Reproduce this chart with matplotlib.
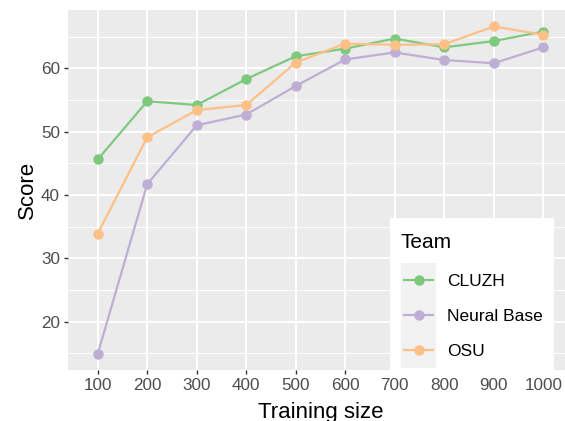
import matplotlib
matplotlib.use("Agg")
import matplotlib.pyplot as plt
from matplotlib.lines import Line2D
from matplotlib.patches import Rectangle

sizes = ["100", "200", "300", "400", "500", "600", "700", "800", "900", "1000"]
cluzh = [45.6, 54.8, 54.2, 58.3, 61.9, 63.1, 64.7, 63.3, 64.3, 65.8]
neural = [14.9, 41.7, 51.0, 52.7, 57.2, 61.4, 62.5, 61.3, 60.8, 63.3]
osu = [33.9, 49.1, 53.4, 54.2, 60.9, 63.9, 63.7, 63.8, 66.6, 65.3]
teams = ["CLUZH", "Neural Base", "OSU"]
colors = ["#7FC97F", "#BEAED4", "#FDC086"]

plt.rcParams['font.family'] = ['Liberation Sans', 'DejaVu Sans']

W, H = 565, 421
fig = plt.figure(figsize=(W / 100, H / 100), dpi=100)
ax = fig.add_axes([68 / W, (H - 370) / H, 505 / W, 360 / H])
ax.set_facecolor("#EBEBEB")
xs = list(range(1, len(sizes) + 1))

LW, MS = 1.6, 6.5
for vals, c in zip([cluzh, neural, osu], colors):
    ax.plot(xs, vals, color=c, lw=LW, marker='o', ms=MS, zorder=3, clip_on=False)

ax.set_xlim(0.4, 10.6)
ax.set_ylim(12.37, 69.2)
ax.set_xticks(xs)
ax.set_xticklabels(sizes)
ax.set_yticks([20, 30, 40, 50, 60])
ax.set_yticks([15, 25, 35, 45, 55, 65], minor=True)
ax.grid(which='major', color='white', lw=1.4)
ax.grid(which='minor', axis='y', color='white', lw=0.7)
ax.set_axisbelow(True)
for s in ax.spines.values():
    s.set_visible(False)
ax.tick_params(which='major', length=3.2, color='#333333', width=1.0,
               labelsize=12.3, labelcolor='#4D4D4D', pad=2.5)
ax.tick_params(which='minor', length=0)
ax.set_xlabel("Training size", fontsize=16, labelpad=6.5)
ax.set_ylabel("Score", fontsize=16, labelpad=2)

# Legend drawn in figure pixel coordinates (top-origin)
def fx(x):
    return x / W

def fy(y):
    return 1 - y / H

fig.add_artist(Rectangle((fx(390), fy(375)), (554 - 390) / W, (375 - 218) / H,
                         transform=fig.transFigure, facecolor='white',
                         edgecolor='none', zorder=5))
fig.text(fx(400.5), fy(248), "Team", fontsize=15, color='black',
         ha='left', va='baseline', zorder=6)
fig.add_artist(Rectangle((fx(401), fy(367.5)), 35 / W, 105 / H,
                         transform=fig.transFigure, facecolor='#F2F2F2',
                         edgecolor='none', zorder=6))
for i, (t, c) in enumerate(zip(teams, colors)):
    yc = 280 + 35 * i
    fig.add_artist(Line2D([fx(404), fx(433)], [fy(yc), fy(yc)],
                          transform=fig.transFigure, color=c, lw=LW, zorder=7))
    fig.add_artist(Line2D([fx(418.5)], [fy(yc)], transform=fig.transFigure,
                          color=c, marker='o', ms=MS, lw=0, zorder=7))
    fig.text(fx(447), fy(yc), t, fontsize=12.5, color='black',
             ha='left', va='center_baseline', zorder=7)

fig.savefig("out.png", dpi=100)
